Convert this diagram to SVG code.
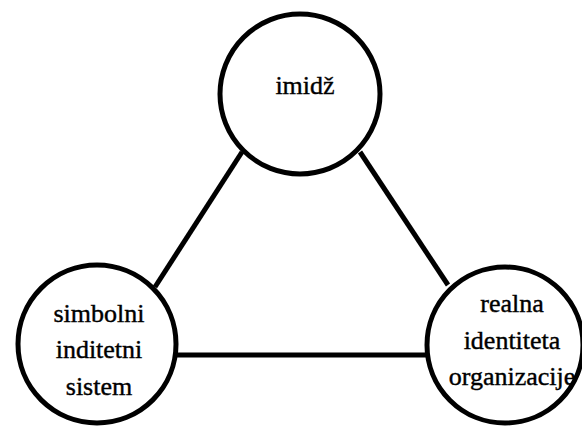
<svg xmlns="http://www.w3.org/2000/svg" width="582" height="426" viewBox="0 0 582 426">
<style>
.node{fill:#fff;stroke:#000;stroke-width:5}
.edge{stroke:#000;stroke-width:5;fill:none}
.lbl{font-family:'Liberation Serif','Times New Roman','DejaVu Serif',serif;font-size:26px;fill:#000;stroke:#000;stroke-width:0.4;text-anchor:middle}
</style>
<rect width="582" height="426" fill="#fff"/>
<g id="connectors">
<line class="edge" x1="242" y1="152" x2="155" y2="287"/>
<line class="edge" x1="360" y1="152" x2="448" y2="285"/>
<line class="edge" x1="176" y1="355" x2="428" y2="355"/>
</g>
<g id="imidz">
<circle class="node" cx="300" cy="94" r="80"/>
<text class="lbl" x="305" y="94">imidž</text>
</g>
<g id="simbolni">
<circle class="node" cx="97" cy="344" r="79"/>
<text class="lbl" x="99" y="322">simbolni</text>
<text class="lbl" x="99" y="358">inditetni</text>
<text class="lbl" x="99" y="395">sistem</text>
</g>
<g id="realna">
<circle class="node" cx="505" cy="345" r="78"/>
<text class="lbl" x="512" y="312">realna</text>
<text class="lbl" x="512" y="349">identiteta</text>
<text class="lbl" x="512" y="385">organizacije</text>
</g>
</svg>
